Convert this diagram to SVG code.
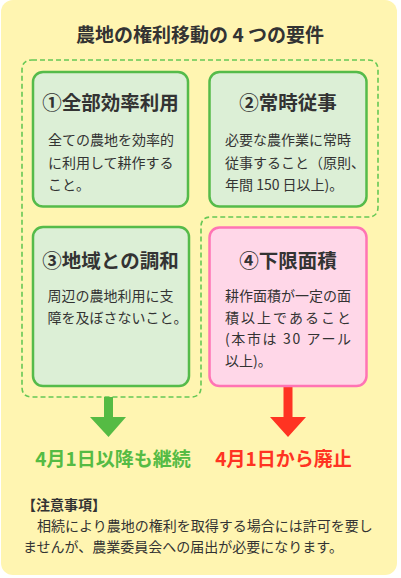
<svg xmlns="http://www.w3.org/2000/svg" width="401" height="578" viewBox="0 0 401 578">
<defs>
<style>
text{font-family:"Noto Sans CJK JP","Noto Sans",sans-serif;fill:#333;}
.title{font-size:19px;font-weight:bold;text-anchor:middle;}
.h{font-size:19.5px;font-weight:bold;text-anchor:middle;}
.b{font-size:14px;}
.gbox{fill:#DCEFD6;stroke:#55BB4A;stroke-width:2.5;}
.pbox{fill:#FFD7E8;stroke:#FF74B4;stroke-width:2.5;}
.dash{fill:none;stroke:#66C855;stroke-width:1.6;stroke-dasharray:5 3;}
.lbl{font-size:19px;font-weight:bold;text-anchor:middle;}
</style>
</defs>
<rect x="1" y="0" width="396" height="575" rx="12" fill="#FFF5B1"/>
<text class="title" x="200" y="42">農地の権利移動の 4 つの要件</text>

<g id="connectors">
<path class="dash" d="M32 60 H368 Q378 60 378 70 V207 Q378 217 368 217 H211 Q201 217 201 227 V387 Q201 397 191 397 H32 Q22 397 22 387 V70 Q22 60 32 60 Z"/>
<path d="M104 397 H113 V417 H126 L108.5 437 L90 417 H104 Z" fill="#55BB44"/>
<path d="M283.5 381 H292.5 V417 H306 L288 437 L270 417 H283.5 Z" fill="#FF3322"/>
</g>

<g id="node1">
<rect class="gbox" x="33" y="72" width="155" height="134.5" rx="10"/>
<text class="h" x="110.5" y="110">①全部効率利用</text>
<text class="b" x="48" y="145">全ての農地を効率的</text>
<text class="b" x="48" y="167.5">に利用して耕作する</text>
<text class="b" x="48" y="190">こと。</text>
</g>

<g id="node2">
<rect class="gbox" x="209.5" y="72" width="157" height="134.5" rx="10"/>
<text class="h" x="288" y="110">②常時従事</text>
<text class="b" x="225" y="145">必要な農作業に常時</text>
<text class="b" x="225" y="167.5">従事すること（原則、</text>
<text class="b" x="225" y="190">年間 150 日以上)。</text>
</g>

<g id="node3">
<rect class="gbox" x="33" y="227" width="156" height="159" rx="10"/>
<text class="h" x="110.5" y="268">③地域との調和</text>
<text class="b" x="47.5" y="301">周辺の農地利用に支</text>
<text class="b" x="47.5" y="323">障を及ぼさないこと。</text>
</g>

<g id="node4">
<rect class="pbox" x="209.5" y="227.5" width="157" height="158.5" rx="10"/>
<text class="h" x="288" y="268">④下限面積</text>
<text class="b" x="225" y="301">耕作面積が一定の面</text>
<text class="b" x="225" y="322.5" textLength="126" lengthAdjust="spacing">積以上であること</text>
<text class="b" x="225" y="344" textLength="126" lengthAdjust="spacing">(本市は 30 アール</text>
<text class="b" x="225" y="365.5">以上)。</text>
</g>

<g id="labels">
<text class="lbl" x="113" y="466" fill="#55BB44" style="fill:#55BB44">4月1日以降も継続</text>
<text class="lbl" x="283.5" y="466" style="fill:#FF3322">4月1日から廃止</text>
</g>

<g id="note">
<text class="b" x="22" y="510" font-weight="bold">【注意事項】</text>
<text class="b" x="23" y="531">　相続により農地の権利を取得する場合には許可を要し</text>
<text class="b" x="23" y="552">ませんが、農業委員会への届出が必要になります。</text>
</g>
</svg>
